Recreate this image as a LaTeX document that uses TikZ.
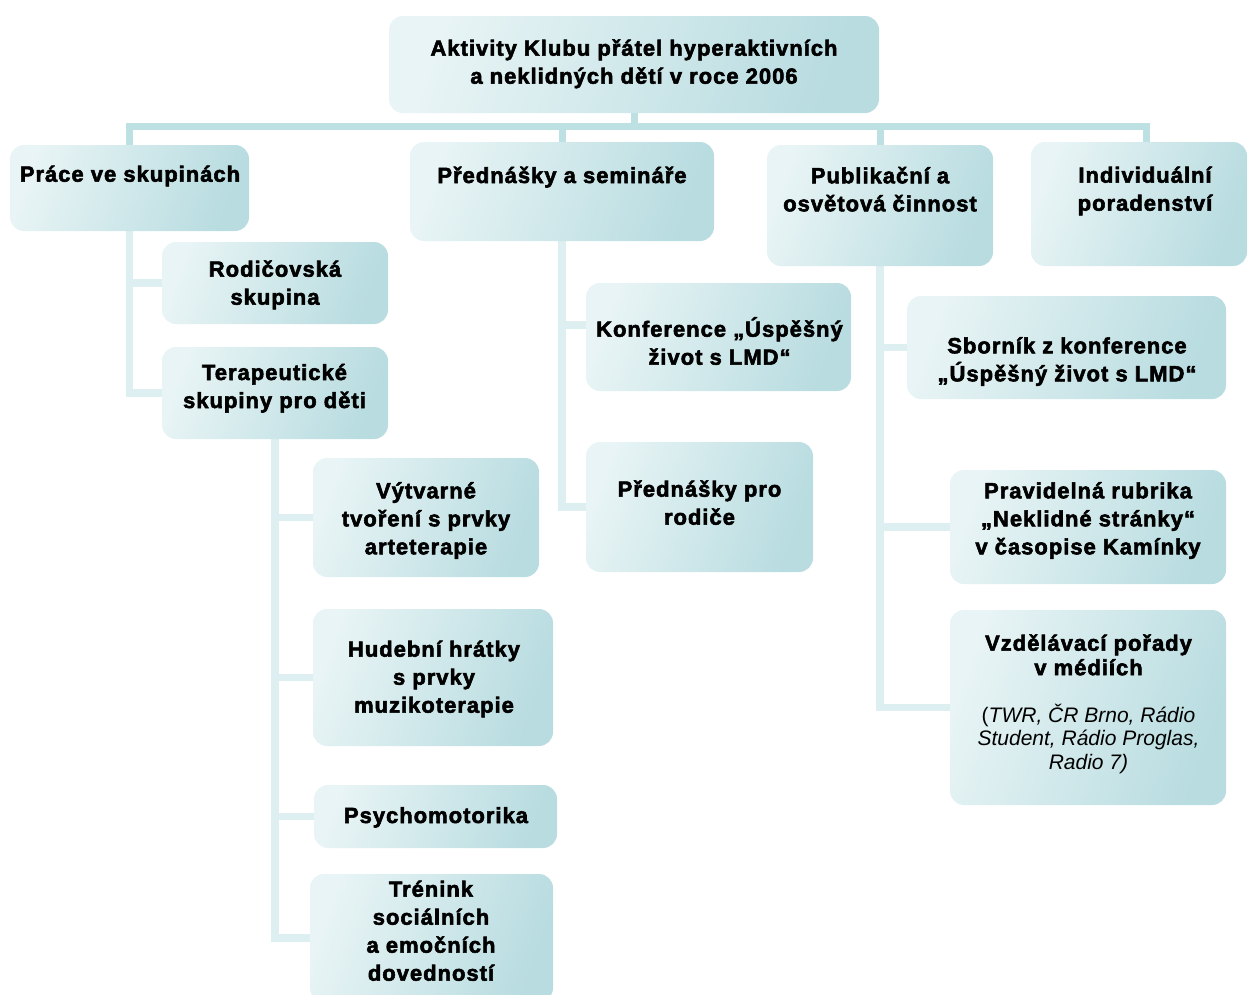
\documentclass[tikz,border=0pt]{standalone}
\usepackage{fontspec}
\setmainfont{Liberation Sans}
\newfontfamily\hvfont{Liberation Sans}[FakeBold=2.5, LetterSpace=4.5]
\usetikzlibrary{backgrounds}
\definecolor{boxL}{HTML}{E8F4F5}
\definecolor{boxR}{HTML}{B8DCE0}
\definecolor{busC}{HTML}{BDE0E3}
\definecolor{linkC}{HTML}{DDEFF0}
\newcommand\ml[1]{\begin{tabular}[t]{@{}c@{}}#1\end{tabular}}
\tikzset{
  box/.style={shade, shading=axis, left color=boxL, right color=boxR, shading angle=70,
    draw=none, inner sep=0pt, rounded corners=14pt},
  lbl/.style={anchor=base, inner sep=0pt, font=\hvfont\bfseries\fontsize{22}{28}\selectfont},
  lbltight/.style={anchor=base, inner sep=0pt, font=\hvfont\bfseries\fontsize{22}{24.5}\selectfont},
  small/.style={anchor=base, inner sep=0pt, font=\fontsize{21}{23.5}\selectfont},
  bus/.style={draw=busC, line width=7pt},
  link/.style={draw=linkC, line width=7.5pt}
}
\begin{document}
\begin{tikzpicture}[x=1pt, y=1pt, yscale=-1]
\useasboundingbox (0,0) rectangle (1248,994);
\clip (0,0) rectangle (1248,994);
% boxes
\node[box, minimum width=490pt, minimum height=97pt] (root) at (634,64.5) {};
\node[box, minimum width=239pt, minimum height=86pt] (prace) at (129.5,188) {};
\node[box, minimum width=304pt, minimum height=99pt] (pred) at (562,191.5) {};
\node[box, minimum width=226pt, minimum height=121pt] (publ) at (880,205.5) {};
\node[box, minimum width=216pt, minimum height=124pt] (indiv) at (1139,204) {};
\node[box, minimum width=226pt, minimum height=82pt] (rod) at (275,283) {};
\node[box, minimum width=226pt, minimum height=92pt] (terap) at (275,393) {};
\node[box, minimum width=226pt, minimum height=119pt] (vyt) at (426,517.5) {};
\node[box, minimum width=240pt, minimum height=137pt] (hud) at (433,677.5) {};
\node[box, minimum width=243pt, minimum height=63pt] (psy) at (435.5,816.5) {};
\node[box, minimum width=243pt, minimum height=128pt] (tren) at (431.5,938) {};
\node[box, minimum width=265pt, minimum height=108pt] (konf) at (718.5,337) {};
\node[box, minimum width=227pt, minimum height=130pt] (prod) at (699.5,507) {};
\node[box, minimum width=319pt, minimum height=103pt] (sbor) at (1066.5,347.5) {};
\node[box, minimum width=276pt, minimum height=114pt] (prav) at (1088,527) {};
\node[box, minimum width=276pt, minimum height=195pt] (vzd) at (1088,707.5) {};
% texts (placed at the baseline of their first line)
\node[lbl] (t-root) at (634,55.7) {\ml{Aktivity Klubu přátel hyperaktivních\\a neklidných dětí v roce 2006}};
\node[lbl] (t-prace) at (130,181.7) {Práce ve skupinách};
\node[lbl] (t-pred) at (562,183) {Přednášky a semináře};
\node[lbl] (t-publ) at (880,183.3) {\ml{Publikační a\\osvětová činnost}};
\node[lbl] (t-indiv) at (1145,182.7) {\ml{Individuální\\poradenství}};
\node[lbl] (t-rod) at (275,276.7) {\ml{Rodičovská\\skupina}};
\node[lbl] (t-terap) at (274.5,380) {\ml{Terapeutické\\skupiny pro děti}};
\node[lbl] (t-vyt) at (426,498.3) {\ml{Výtvarné\\tvoření s prvky\\arteterapie}};
\node[lbl] (t-hud) at (434,656.7) {\ml{Hudební hrátky\\s prvky\\muzikoterapie}};
\node[lbl] (t-psy) at (436,823) {Psychomotorika};
\node[lbl] (t-tren) at (431,896.7) {\ml{Trénink\\sociálních\\a emočních\\dovedností}};
\node[lbl] (t-konf) at (719.5,336.7) {\ml{Konference „Úspěšný\\život s LMD“}};
\node[lbl] (t-prod) at (699.5,496.7) {\ml{Přednášky pro\\rodiče}};
\node[lbl] (t-sbor) at (1067,353.3) {\ml{Sborník z konference\\„Úspěšný život s LMD“}};
\node[lbl] (t-prav) at (1088,498.3) {\ml{Pravidelná rubrika\\„Neklidné stránky“\\v časopise Kamínky}};
\node[lbltight] (t-vzd) at (1088.5,650.7) {\ml{Vzdělávací pořady\\v médiích}};
\node[small] (t-vzd2) at (1088.5,722) {\ml{(\textit{TWR, ČR Brno, Rádio}\\\textit{Student, Rádio Proglas,}\\\textit{Radio 7)}}};
\coordinate (kj) at (586,325);
% connectors
\begin{scope}[on background layer]
\draw[bus] (root.south) -- ++(0,13) -| (prace.north);
\draw[bus] (root.south) -- ++(0,13) -| (pred.north);
\draw[bus] (root.south) -- ++(0,13) -| (publ.north);
\draw[bus] (root.south) -- ++(0,13) -| ([xshift=7pt]indiv.north);
\draw[link] (prace.south) |- (rod.west);
\draw[link] (prace.south) |- (terap.west);
\draw[link] (terap.south) |- (vyt.west);
\draw[link] (terap.south) |- (hud.west);
\draw[link] (terap.south) |- (psy.west);
\draw[link] (terap.south) |- (tren.west);
\draw[link] (pred.south) |- (kj);
\draw[link] (pred.south) |- (prod.west);
\draw[link] (publ.south) |- (sbor.west);
\draw[link] (publ.south) |- (prav.west);
\draw[link] (publ.south) |- (vzd.west);
\end{scope}
\end{tikzpicture}
\end{document}
